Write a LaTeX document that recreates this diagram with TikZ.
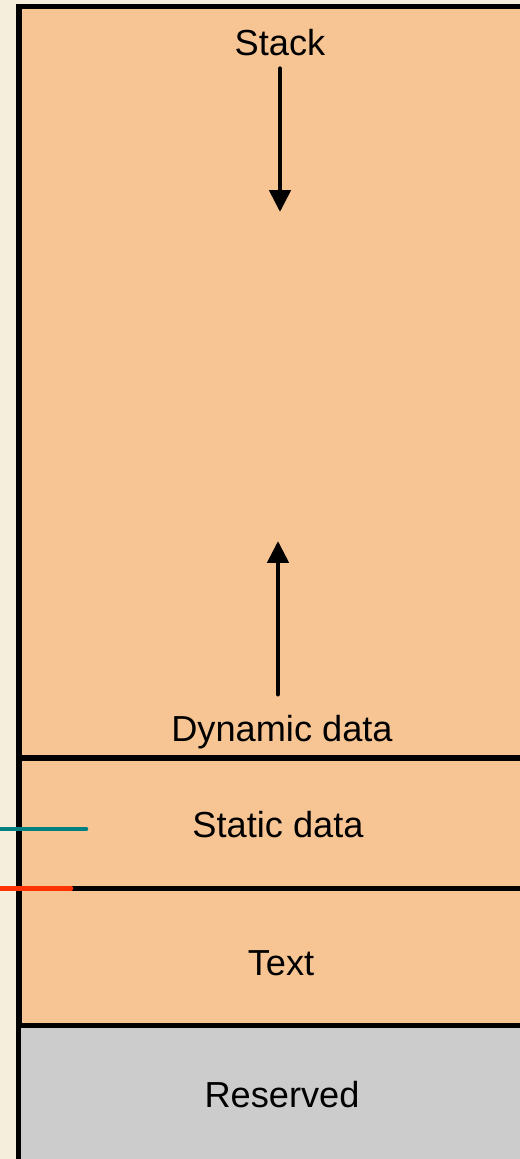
\documentclass[tikz,border=0pt]{standalone}
\usepackage{fontspec}
\setmainfont{Liberation Sans}
\usetikzlibrary{arrows.meta}
\definecolor{pagebg}{HTML}{F5EEDC}
\definecolor{segorange}{HTML}{F7C594}
\definecolor{reservedgrey}{HTML}{CCCCCC}
\definecolor{markteal}{HTML}{008080}
\definecolor{markred}{HTML}{FF3300}
\begin{document}
\begin{tikzpicture}[
    x=0.02cm, y=-0.02cm,
    font=\fontsize{20.6}{24}\selectfont,
    segment/.style={draw=black, fill=segorange, line width=3.1pt},
    reserved/.style={segment, fill=reservedgrey},
    divider/.style={draw=black, line width=3pt},
    seglabel/.style={anchor=base, inner sep=0pt},
    growth/.style={draw=black, line width=2.6pt, line cap=round,
                   -{Triangle[width=12pt, length=12.5pt]}},
    marker/.style={line width=2.6pt, line cap=round},
  ]
  % page and clipping window
  \fill[pagebg] (0,0) rectangle (520,1159);
  \clip (0,0) rectangle (520,1159);
  % memory segments
  \draw[segment] (19,6.5) rectangle (560,1200);
  \draw[reserved] (18.5,1025.5) rectangle (560,1200);
  \draw[divider] (16,758) -- (560,758);
  \draw[divider] (19,888.5) -- (560,888.5);
  % segment labels
  \node[seglabel] (stack)    at (280,56)   {Stack};
  \node[seglabel] (dynamic)  at (282,741)  {Dynamic data};
  \node[seglabel] (static)   at (278,837)  {Static data};
  \node[seglabel] (text)     at (281,975)  {Text};
  \node[seglabel] (reserved) at (282,1107) {Reserved};
  % growth arrows
  \coordinate (stacktip) at (280,212);
  \coordinate (heaptip)  at (278,541);
  \draw[growth, shorten <=6.8pt]  (stack.south) -- (stacktip);
  \draw[growth, shorten <=11.5pt] (dynamic.north -| heaptip) -- (heaptip);
  % pointer marks on the left
  \coordinate (tealin)  at (-5,829);
  \coordinate (tealend) at (86,829);
  \coordinate (redin)   at (-5,888.5);
  \coordinate (redend)  at (71,888.5);
  \draw[marker, markteal] (tealin) -- (tealend);
  \draw[marker, markred]  (redin)  -- (redend);
\end{tikzpicture}
\end{document}
